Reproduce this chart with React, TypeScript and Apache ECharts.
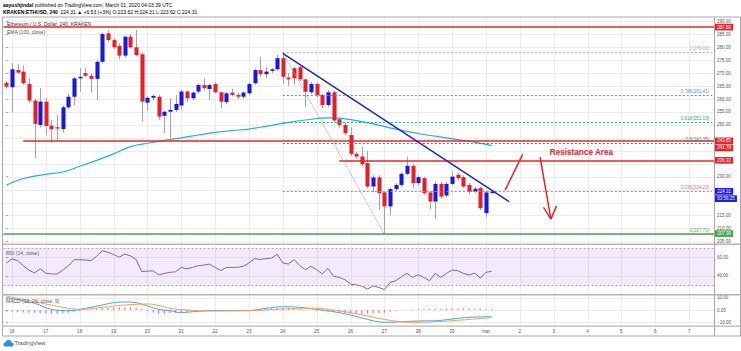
import React, { useEffect, useRef } from 'react';
import * as echarts from 'echarts';

const FONT = '"Liberation Sans", Arial, sans-serif';
const UP = '#1717e0';
const DOWN = '#e3202a';
const RED = '#e4262b';
const GREEN = '#45a548';
const BLUE_BADGE = '#1c1cf0';
const GRID = '#ececec';

// x axis: 4h slots, slot 0 = Feb 15 20:00
const dayLabels = ['16', '17', '18', '19', '20', '21', '22', '23', '24', '25', '26', '27', '28', '29', 'mar', '2', '3', '4', '5', '6', '7'];
const daySlots = [1, 7, 13, 19, 25, 31, 37, 43, 49, 55, 61, 67, 73, 79, 85, 91, 97, 103, 109, 115, 121];

const priceTicks = [205, 210, 215, 220, 225, 230, 235, 240, 245, 250, 255, 260, 265, 270, 275, 280, 285, 290];
// labels hidden where the price badges sit (as on the reference)
const priceLabelTicks = [205, 210, 215, 230, 250, 255, 260, 265, 270, 275, 280, 285, 290];
const rsiTicks = [40, 60];
const macdTicks = [-10, 0, 10];

const opens = [
  266.3, 264.6, 271.2, 270.6, 265.8, 259.4, 250.0, 259.0, 249.7, 249.1,
  248.4, 256.8, 260.9, 268.0, 270.0, 269.0, 267.8, 274.4, 285.4, 282.8,
  280.5, 276.8, 284.1, 280.0, 277.3, 258.6, 260.5, 260.9, 253.5, 255.1,
  255.8, 257.5, 262.9, 260.3, 262.9, 265.4, 263.9, 265.8, 262.6, 258.8,
  262.5, 261.6, 260.9, 262.2, 266.1, 271.2, 269.6, 270.9, 271.5, 275.8,
  268.3, 271.9, 272.3, 267.6, 262.6, 265.8, 261.6, 257.7, 262.6, 252.2,
  250.0, 246.1, 238.8, 237.8, 235.2, 226.2, 229.7, 223.9, 218.5, 225.2,
  226.8, 231.1, 234.2, 227.5, 229.4, 223.9, 220.4, 227.2, 222.7, 227.2,
  230.7, 229.8, 226.8, 224.2, 225.6, 215.9, 223.62,
];
const highs = [
  267.0, 273.8, 273.4, 273.0, 268.0, 260.2, 264.2, 260.5, 252.0, 253.9,
  257.5, 262.0, 268.5, 271.9, 271.9, 270.0, 275.0, 285.5, 286.5, 283.5,
  281.5, 284.5, 285.0, 286.7, 278.0, 261.0, 261.8, 261.5, 255.5, 260.3,
  261.5, 263.5, 263.3, 263.0, 266.0, 268.0, 266.0, 266.5, 263.0, 262.8,
  264.0, 262.5, 263.0, 266.5, 271.8, 276.4, 272.5, 272.0, 277.0, 278.0,
  270.0, 272.5, 273.0, 268.0, 266.5, 266.3, 262.0, 263.5, 263.0, 253.0,
  251.0, 249.0, 239.5, 241.6, 240.0, 230.5, 230.5, 224.5, 225.8, 227.5,
  231.5, 237.8, 235.0, 230.5, 230.0, 224.5, 228.0, 228.0, 228.0, 232.0,
  231.5, 230.5, 227.5, 226.0, 226.0, 224.5, 224.31,
];
const lows = [
  264.0, 254.8, 269.8, 265.5, 258.5, 237.1, 249.0, 246.0, 242.9, 244.2,
  247.0, 256.0, 257.7, 262.9, 268.5, 262.5, 259.6, 273.8, 282.0, 279.5,
  275.4, 276.0, 279.5, 276.5, 251.3, 255.5, 259.5, 252.0, 246.8, 244.9,
  255.0, 256.0, 259.0, 259.5, 262.0, 263.5, 259.5, 262.0, 256.4, 258.0,
  261.0, 260.0, 260.0, 261.5, 265.5, 268.5, 268.0, 270.0, 271.0, 265.8,
  265.0, 265.5, 267.0, 257.0, 262.0, 260.5, 256.5, 257.0, 251.0, 249.0,
  246.0, 238.0, 237.0, 234.0, 225.5, 223.9, 217.2, 207.9, 215.0, 224.5,
  226.0, 230.5, 225.5, 226.5, 223.0, 217.5, 213.6, 221.5, 222.0, 226.5,
  228.5, 225.5, 223.0, 223.5, 217.0, 214.5, 223.62,
];
const closes = [
  264.8, 271.5, 270.2, 266.1, 259.4, 250.4, 259.0, 249.6, 248.3, 248.6,
  256.8, 260.9, 268.0, 268.6, 269.0, 267.8, 274.4, 285.1, 282.8, 280.0,
  276.8, 284.1, 280.0, 277.0, 259.0, 260.5, 261.2, 253.2, 255.1, 255.8,
  258.1, 262.9, 260.3, 262.5, 265.4, 264.2, 265.4, 262.6, 259.0, 262.2,
  261.6, 260.9, 262.5, 265.8, 271.2, 269.6, 270.6, 271.5, 275.8, 268.6,
  267.6, 268.0, 267.6, 262.8, 265.8, 261.6, 257.7, 262.6, 251.7, 250.0,
  246.8, 238.8, 237.8, 234.8, 226.2, 229.7, 223.6, 218.5, 225.2, 226.8,
  231.1, 234.2, 227.5, 229.8, 223.6, 220.4, 227.2, 222.3, 227.2, 230.0,
  229.4, 226.2, 224.2, 225.3, 217.8, 223.9, 224.31,
];

const emaSlots = [0, 3, 7, 10, 13, 16, 19, 22, 25, 28, 31, 34, 37, 40, 43, 45, 49, 53, 57, 60, 65, 69, 74, 78, 82, 86];
const emaValues = [226.7, 229.3, 230.9, 231.8, 234.0, 236.3, 238.8, 241.6, 242.9, 244.0, 245.0, 246.1, 247.1, 247.8, 248.4, 249.1, 250.6, 251.9, 252.7, 252.3, 250.4, 248.4, 246.3, 245.0, 243.7, 242.0];

const rsiValues = [
  53.8, 58.2, 56.3, 51, 46, 43, 47.5, 42.8, 42, 41.8,
  46, 51, 57.2, 57.4, 57, 56.3, 61, 67, 65.4, 63,
  60, 63.4, 61.5, 57.6, 44.5, 45, 45.3, 41, 42.5, 43.7,
  44.3, 49, 47.4, 49, 50.9, 51.5, 52.6, 49, 45.6, 49,
  49, 49.1, 50.2, 53.8, 58.5, 57.5, 58.5, 59, 63.3, 53.8,
  52.7, 57.4, 51, 46.5, 50.2, 46.5, 42, 48, 39.5, 38.2,
  35.8, 31, 30.2, 28.6, 25.6, 29, 27.4, 25, 32.8, 34.6,
  38.9, 42.6, 38.2, 41.1, 38.2, 34.6, 42.6, 38.2, 42.6, 46.2,
  45.4, 42.6, 40.8, 42.8, 37.5, 43.7, 44.8,
];

const macdSlots = [0, 5, 8, 11, 14, 17, 19, 21, 23, 25, 27, 29, 31, 33, 37, 43, 46, 49, 52, 55, 58, 61, 64, 67, 70, 73, 76, 79, 82, 86];
const macdValues = [10.2, 5.5, 0.5, -0.6, 1.4, 4.1, 6.0, 6.6, 6.0, 3.3, 0.5, -0.5, -2.2, -1.4, -0.5, -0.5, 1.4, 2.7, 2.2, 0.5, -1.4, -4.1, -7.7, -10.1, -9.6, -9.0, -8.8, -7.4, -6.0, -5.5];
const signalSlots = [0, 5, 11, 13, 17, 21, 25, 27, 29, 32, 35, 43, 49, 52, 55, 58, 61, 64, 67, 70, 73, 76, 79, 82, 86];
const signalValues = [11.5, 6.8, 1.4, 0.5, 2.2, 4.1, 4.9, 3.8, 1.4, 0.0, -0.8, -0.5, 0.8, 1.4, 1.4, 0.0, -2.2, -4.9, -7.7, -9.6, -10.1, -9.6, -8.8, -7.7, -6.3];
const histValues = [
  -1.2, -1.5, -1.8, -2.0, -2.2, -2.4, -2.6, -2.8, -3.0, -3.0,
  -2.8, -2.2, -1.5, -0.8, -0.2, 0.5, 1.0, 1.5, 1.8, 2.0,
  2.2, 2.3, 2.2, 1.8, 1.2, -0.8, -2.0, -3.0, -3.0, -2.7,
  -2.5, -2.3, -1.6, -1.0, -0.5, -0.2, 0.1, 0.2, 0.1, 0.0,
  0.0, -0.1, 0.0, 0.0, 0.5, 0.8, 1.2, 1.5, 1.8, 1.9,
  1.5, 1.2, 0.8, 0.4, 0.0, -0.6, -1.0, -1.4, -1.8, -2.2,
  -2.5, -2.8, -3.0, -3.0, -2.9, -2.7, -2.5, -2.2, -1.5, -0.6,
  0.0, 0.3, 0.5, 0.8, 0.9, 1.0, 1.0, 1.1, 1.2, 1.3,
  1.3, 1.3, 1.2, 1.0, 0.9, 0.7, 0.6,
];

// horizontal levels drawn on the chart
const redLevels = [287.8, 243.85, 236.32];
const redLevelStarts = [-0.5, 3, 59];
const greenLevel = 207.99;

// Fibonacci retracement
const fibPrices = [278.0, 261.4, 251.2, 243.0, 224.3, 207.7];
const fibTexts = ['1(279.00)', '0.786(261.41)', '0.618(251.19)', '0.5(243.35)', '0.236(224.29)', '0(207.70)'];
const fibColors = ['#8fb3d9', '#5a90c8', '#3aa57c', '#6f6f6f', '#d97878', '#6aa86a'];
const fibStartSlot = 49;

// price badges on the right scale (stacked badges nudged apart, as TradingView does)
const badgePrices = [287.8, 243.85, 241.1, 236.32, 224.31, 221.5, 207.99];
const badgeTexts = ['287.80', '243.85', '241.78', '236.32', '224.31', '03:56:25', '207.99'];
const badgeColors = [RED, RED, RED, RED, BLUE_BADGE, BLUE_BADGE, GREEN];

// drawings: [slot, price] pairs
const trendLine = [[49, 277.7], [89.1, 220.3]];
const fibDiagonal = [[49, 278.0], [67, 207.7]];
const upStroke = [[88.4, 224.8], [91.5, 238.6]];
const downStroke = [[94.6, 237.5], [96.5, 213.6]];
const arrowHeadL = [[95.2, 218.1], [96.5, 213.6]];
const arrowHeadR = [[97.5, 218.6], [96.5, 213.6]];
const resistanceTextAt = [96.3, 239.5];

const X_MIN = -0.5;
const X_MAX = 125.5;

function gridLinesSeries(gi: number, yTicks: number[], yInside: number) {
  return {
    type: 'custom',
    xAxisIndex: gi,
    yAxisIndex: gi,
    z: 0,
    silent: true,
    data: [[60, yInside]],
    renderItem: (params: any, api: any) => {
      const cs = params.coordSys;
      const children: any[] = [];
      daySlots.forEach((s) => {
        const x = Math.round(api.coord([s, yInside])[0]) + 0.5;
        children.push({ type: 'line', shape: { x1: x, y1: cs.y, x2: x, y2: cs.y + cs.height }, style: { stroke: GRID, lineWidth: 1 } });
      });
      yTicks.forEach((v) => {
        const y = Math.round(api.coord([60, v])[1]) + 0.5;
        children.push({ type: 'line', shape: { x1: cs.x, y1: y, x2: cs.x + cs.width, y2: y }, style: { stroke: GRID, lineWidth: 1 } });
      });
      return { type: 'group', children };
    },
  };
}

function seg(points: number[][], color: string, width: number, type: string = 'solid') {
  return [
    { coord: points[0], lineStyle: { color, width, type }, label: { show: false } },
    { coord: points[1], lineStyle: { color, width, type } },
  ];
}

function buildOption() {
  const xAxisBase = (gi: number, showLabels: boolean) => ({
    type: 'value',
    gridIndex: gi,
    min: X_MIN,
    max: X_MAX,
    axisLine: { show: false },
    axisTick: { show: false },
    splitLine: { show: false },
    axisLabel: showLabels
      ? {
          show: true,
          customValues: daySlots,
          formatter: (v: number) => dayLabels[daySlots.indexOf(Math.round(v))] ?? '',
          fontSize: 4.6,
          color: '#555',
          fontFamily: FONT,
          margin: 3,
        }
      : { show: false },
  });

  const yAxisBase = (gi: number, min: number, max: number, labelTicks: number[]) => ({
    type: 'value',
    gridIndex: gi,
    position: 'right',
    min,
    max,
    axisLine: { show: false },
    axisTick: { show: true, length: 1.5, customValues: labelTicks, lineStyle: { color: '#777', width: 0.8 } },
    splitLine: { show: false },
    axisLabel: {
      customValues: labelTicks,
      formatter: (v: number) => (v < 0 ? '\u2212' : '') + Math.abs(v).toFixed(2),
      fontSize: 4.5,
      color: '#555',
      fontFamily: FONT,
      margin: 2.5,
    },
  });

  const annotationLines: any[] = [];
  redLevels.forEach((p, i) => {
    annotationLines.push(seg([[redLevelStarts[i], p], [X_MAX, p]], RED, 1.5));
  });
  annotationLines.push(seg([[X_MIN, greenLevel], [X_MAX, greenLevel]], GREEN, 1.5));
  fibPrices.forEach((p, i) => {
    annotationLines.push([
      {
        coord: [fibStartSlot, p],
        lineStyle: { color: fibColors[i], width: 1, type: [2, 2] },
        label: {
          show: true,
          position: 'insideEndTop',
          formatter: fibTexts[i],
          color: fibColors[i],
          fontSize: 4.6,
          fontFamily: FONT,
          distance: [3, 1],
        },
      },
      { coord: [X_MAX - 0.4, p] },
    ]);
  });
  annotationLines.push(seg(fibDiagonal, '#a0a0a0', 1, 'dotted'));
  annotationLines.push(seg(trendLine, '#2424c4', 1.5));
  annotationLines.push(seg(upStroke, RED, 1.5));
  annotationLines.push(seg(downStroke, RED, 1.5));
  annotationLines.push(seg(arrowHeadL, RED, 1.5));
  annotationLines.push(seg(arrowHeadR, RED, 1.5));

  const headerRich = {
    b: { fontWeight: 'bold', color: '#222', fontSize: 5, fontFamily: FONT },
    n: { color: '#333', fontSize: 5, fontFamily: FONT },
    g: { color: '#26a65b', fontSize: 5, fontFamily: FONT },
    t: { color: '#1e9e8e', fontSize: 5, fontFamily: FONT },
  };

  return {
    animation: false,
    backgroundColor: '#ffffff',
    grid: [
      { left: 3.5, width: 711, top: 17.5, height: 226 },
      { left: 3.5, width: 711, top: 245, height: 49 },
      { left: 3.5, width: 711, top: 295.5, height: 30 },
    ],
    xAxis: [xAxisBase(0, false), xAxisBase(1, false), xAxisBase(2, true)],
    yAxis: [
      yAxisBase(0, 204.16, 291.52, priceLabelTicks),
      yAxisBase(1, 20.3, 73.2, rsiTicks),
      yAxisBase(2, -12.7, 11.9, macdTicks),
    ],
    series: [
      gridLinesSeries(0, priceTicks, 250),
      gridLinesSeries(1, rsiTicks, 50),
      gridLinesSeries(2, macdTicks, 0),
      {
        name: 'EMA',
        type: 'line',
        xAxisIndex: 0,
        yAxisIndex: 0,
        z: 2,
        data: emaSlots.map((s, i) => [s, emaValues[i]]),
        smooth: 0.4,
        showSymbol: false,
        lineStyle: { color: '#22b3c6', width: 1.2 },
        silent: true,
      },
      {
        name: 'ETHUSD',
        type: 'custom',
        xAxisIndex: 0,
        yAxisIndex: 0,
        z: 3,
        data: opens.map((o, i) => [i, o, closes[i], lows[i], highs[i]]),
        encode: { x: 0, y: [1, 2, 3, 4] },
        renderItem: (params: any, api: any) => {
          const x = api.value(0);
          const o = api.value(1);
          const c = api.value(2);
          const l = api.value(3);
          const h = api.value(4);
          const pO = api.coord([x, o]);
          const pC = api.coord([x, c]);
          const pL = api.coord([x, l]);
          const pH = api.coord([x, h]);
          const w = api.size([1, 0])[0] * 0.72;
          const up = c >= o;
          const top = Math.min(pO[1], pC[1]);
          const hgt = Math.max(1, Math.abs(pO[1] - pC[1]));
          const cx = Math.round(pO[0]) + 0.5;
          return {
            type: 'group',
            children: [
              { type: 'line', shape: { x1: cx, y1: pH[1], x2: cx, y2: pL[1] }, style: { stroke: '#a3a3a3', lineWidth: 1 } },
              { type: 'rect', shape: { x: cx - w / 2, y: top, width: w, height: hgt }, style: { fill: up ? UP : DOWN } },
            ],
          };
        },
      },
      {
        name: 'drawings',
        type: 'line',
        xAxisIndex: 0,
        yAxisIndex: 0,
        data: [],
        clip: false,
        silent: true,
        markLine: {
          silent: true,
          symbol: ['none', 'none'],
          animation: false,
          data: annotationLines,
        },
        markPoint: {
          silent: true,
          animation: false,
          data: [
            {
              coord: resistanceTextAt,
              symbol: 'rect',
              symbolSize: 0,
              label: {
                show: true,
                position: 'right',
                distance: 0,
                formatter: 'Resistance Area',
                color: RED,
                fontWeight: 'bold',
                fontSize: 8.2,
                fontFamily: FONT,
              },
            },
          ],
        },
      },
      {
        name: 'badges',
        type: 'custom',
        xAxisIndex: 0,
        yAxisIndex: 0,
        z: 20,
        silent: true,
        clip: false,
        data: badgePrices.map((p, i) => [X_MAX, p, i]),
        renderItem: (params: any, api: any) => {
          const pt = api.coord([api.value(0), api.value(1)]);
          const i = api.value(2);
          return {
            type: 'text',
            x: pt[0] + 0.5,
            y: pt[1],
            style: {
              text: badgeTexts[i],
              fill: '#ffffff',
              fontSize: 4.5,
              fontFamily: FONT,
              align: 'left',
              verticalAlign: 'middle',
              backgroundColor: badgeColors[i],
              padding: [1, 2.2, 0.7, 2.2],
            },
          };
        },
      },
      {
        name: 'RSI',
        type: 'line',
        xAxisIndex: 1,
        yAxisIndex: 1,
        z: 3,
        data: rsiValues.map((v, i) => [i, v]),
        showSymbol: false,
        lineStyle: { color: '#8c5ead', width: 1 },
        silent: true,
        markArea: {
          silent: true,
          itemStyle: { color: 'rgba(160, 90, 230, 0.12)' },
          data: [[{ yAxis: 70 }, { yAxis: 30 }]],
        },
        markLine: {
          silent: true,
          symbol: ['none', 'none'],
          label: { show: false },
          lineStyle: { color: '#b9a6cc', width: 1, type: [2, 2] },
          data: [{ yAxis: 70 }, { yAxis: 30 }],
        },
      },
      {
        name: 'Histogram',
        type: 'bar',
        xAxisIndex: 2,
        yAxisIndex: 2,
        z: 2,
        barWidth: 1.2,
        data: histValues.map((v, i) => [i, v]),
        itemStyle: { color: '#f2709a' },
        silent: true,
      },
      {
        name: 'MACD',
        type: 'line',
        xAxisIndex: 2,
        yAxisIndex: 2,
        z: 3,
        data: macdSlots.map((s, i) => [s, macdValues[i]]),
        smooth: 0.4,
        showSymbol: false,
        lineStyle: { color: '#4aa3e8', width: 1 },
        silent: true,
      },
      {
        name: 'Signal',
        type: 'line',
        xAxisIndex: 2,
        yAxisIndex: 2,
        z: 3,
        data: signalSlots.map((s, i) => [s, signalValues[i]]),
        smooth: 0.4,
        showSymbol: false,
        lineStyle: { color: '#f5a05a', width: 1 },
        silent: true,
      },
    ],
    graphic: [
      // frame and pane separators
      { type: 'rect', silent: true, z: 50, shape: { x: 2.5, y: 17, width: 738, height: 319 }, style: { fill: 'none', stroke: '#a8a8a8', lineWidth: 1 } },
      { type: 'line', silent: true, z: 50, shape: { x1: 2.5, y1: 244.3, x2: 741, y2: 244.3 }, style: { stroke: '#b4b4b4', lineWidth: 1.5 } },
      { type: 'line', silent: true, z: 50, shape: { x1: 2.5, y1: 294.8, x2: 741, y2: 294.8 }, style: { stroke: '#b4b4b4', lineWidth: 1.5 } },
      { type: 'line', silent: true, z: 50, shape: { x1: 2.5, y1: 326.2, x2: 741, y2: 326.2 }, style: { stroke: '#b4b4b4', lineWidth: 1.2 } },
      { type: 'line', silent: true, z: 50, shape: { x1: 714.5, y1: 17, x2: 714.5, y2: 336 }, style: { stroke: '#a8a8a8', lineWidth: 1 } },
      // header
      {
        type: 'text', silent: true, x: 3, y: 2,
        style: { text: '{b|aayushjindal} {n|published on TradingView.com, March 01, 2020 04:03:39 UTC}', rich: headerRich, fontSize: 5 },
      },
      {
        type: 'text', silent: true, x: 3, y: 9.3,
        style: {
          text: '{b|KRAKEN:ETHUSD, 240}  {n|224.31} {g|▲} {n|+6.53 (+3%)} {n|O:}{t|223.62} {n|H:}{t|224.31} {n|L:}{t|223.62} {n|C:}{t|224.31}',
          rich: headerRich,
          fontSize: 5,
        },
      },
      // pane titles
      { type: 'text', silent: true, z: 60, x: 7, y: 21.7, style: { text: 'Ethereum / U.S. Dollar, 240, KRAKEN', fontSize: 5, fill: '#333', fontFamily: FONT } },
      { type: 'text', silent: true, z: 60, x: 7, y: 29.2, style: { text: 'EMA (100, close)', fontSize: 5, fill: '#555', fontFamily: FONT } },
      { type: 'text', silent: true, z: 60, x: 6, y: 250.2, style: { text: 'RSI (14, close)', fontSize: 5, fill: '#555', fontFamily: FONT } },
      { type: 'text', silent: true, z: 60, x: 6, y: 298.2, style: { text: 'MACD (12, 26, close, 9)', fontSize: 5, fill: '#555', fontFamily: FONT } },
      // TradingView logo
      {
        type: 'group', silent: true, x: 0, y: 0,
        children: [
          { type: 'circle', shape: { cx: 5.6, cy: 344.4, r: 2.1 }, style: { fill: '#2d8fe0' } },
          { type: 'circle', shape: { cx: 8.6, cy: 342.7, r: 2.9 }, style: { fill: '#2d8fe0' } },
          { type: 'circle', shape: { cx: 11.7, cy: 344.5, r: 2.0 }, style: { fill: '#2d8fe0' } },
          { type: 'rect', shape: { x: 5.6, y: 344.2, width: 6.1, height: 2.3 }, style: { fill: '#2d8fe0' } },
          { type: 'text', x: 14.5, y: 340.3, style: { text: 'TradingView', fontSize: 5.6, fill: '#4a4a4a', fontFamily: FONT } },
        ],
      },
    ],
  };
}

export default function App() {
  const ref = useRef<HTMLDivElement>(null);
  useEffect(() => {
    if (!ref.current) return;
    const chart = echarts.init(ref.current, undefined, { renderer: 'svg', width: 741, height: 351 });
    chart.setOption(buildOption() as any);
    return () => chart.dispose();
  }, []);
  return (
    <div
      ref={ref}
      style={{ width: 741, height: 351, position: 'absolute', left: 0, top: 0, background: '#fff' }}
    />
  );
}
